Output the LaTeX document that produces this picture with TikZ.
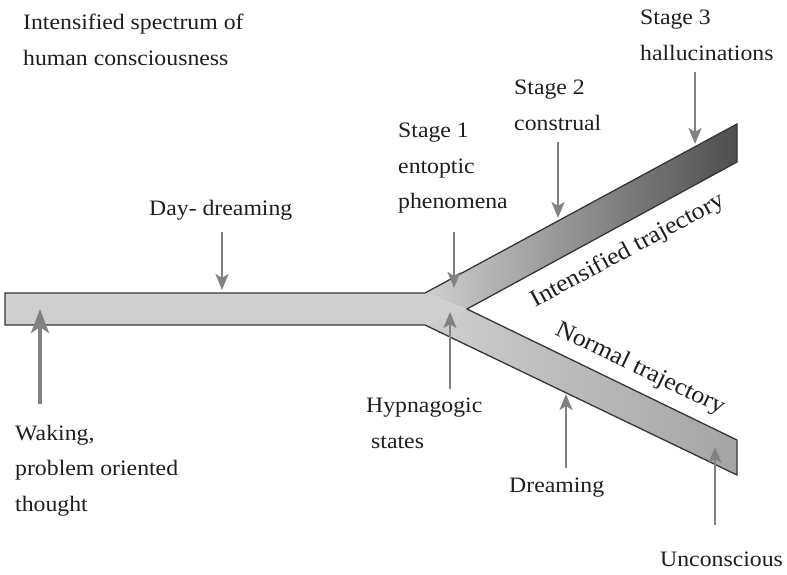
\documentclass[tikz,border=0pt]{standalone}
\usepackage{fontspec}
\setmainfont{Liberation Serif}[FakeStretch=1.08]
\usetikzlibrary{arrows.meta}
\definecolor{arrowgray}{HTML}{828282}
\definecolor{outline}{HTML}{363636}
\definecolor{barlight}{HTML}{CFCFCF}
\definecolor{bardark}{HTML}{4E4E4E}
\definecolor{lowend}{HTML}{A4A4A4}
\definecolor{ink}{HTML}{1E1E1E}
\begin{document}
\begin{tikzpicture}[x=1pt,y=-1pt,
  lbl/.style={font=\fontsize{22}{35.5}\selectfont, inner sep=0pt, text=ink},
  trajlbl/.style={font=\fontsize{24}{28}\selectfont, inner sep=0pt, text=ink},
  ptr/.style={draw=arrowgray, line width=2.6pt, -{Stealth[length=16pt,width=13pt,inset=4pt]}},
  bigptr/.style={draw=arrowgray, line width=3.6pt, -{Stealth[length=24pt,width=18pt,inset=6pt]}},
  edgeline/.style={draw=outline, line width=1.3pt, line join=miter}]
\useasboundingbox (0,0) rectangle (787,575);

% bar body
\shade[left color=barlight, right color=bardark] (425,293) -- (737,124) -- (737,162) -- (467,309) -- cycle;
\shade[left color=barlight, right color=lowend] (467,309) -- (737,440) -- (737,475) -- (425,325) -- cycle;
\fill[barlight] (5,293) -- (425,293) -- (467,309) -- (425,325) -- (5,325) -- cycle;
\draw[edgeline] (5,293) -- (425,293) -- (737,124) -- (737,162) -- (467,309) -- (737,440) -- (737,475) -- (425,325) -- (5,325) -- cycle;

% labels
\node[lbl, anchor=north west, align=left] (title) at (23,14) {Intensified spectrum of\\human consciousness};
\node[lbl, anchor=north west, align=left] (s3) at (640,10) {Stage 3\\hallucinations};
\node[lbl, anchor=north west, align=left] (s2) at (514,80) {Stage 2\\construal};
\node[lbl, anchor=north west, align=left] (s1) at (398,123) {Stage 1\\entoptic\\phenomena};
\node[lbl, anchor=base west] (day) at (149,215) {Day- dreaming};
\node[lbl, anchor=north west, align=left] (wake) at (15,425) {Waking,\\problem oriented\\thought};
\node[lbl, anchor=north west, align=left] (hyp) at (366,398) {Hypnagogic\\\hspace{5pt}states};
\node[lbl, anchor=base west] (dream) at (509,492) {Dreaming};
\node[lbl, anchor=base west] (unc) at (660,566) {Unconscious};
\node[trajlbl, rotate=28.3] (itraj) at (628,251) {Intensified trajectory};
\node[trajlbl, rotate=-25.7] (ntraj) at (640,369) {Normal trajectory};

% arrow end points
\coordinate (dayT) at (222,232);   \coordinate (dayH) at (222,290);
\coordinate (wakeT) at (40,404);   \coordinate (wakeH) at (40,309);
\coordinate (s1T) at (454,232);    \coordinate (s1H) at (454,288);
\coordinate (hypT) at (450,389);   \coordinate (hypH) at (450,312);
\coordinate (s2T) at (558,142);    \coordinate (s2H) at (558,218);
\coordinate (s3T) at (695,72);     \coordinate (s3H) at (695,144);
\coordinate (drT) at (566,468);    \coordinate (drH) at (566,394);
\coordinate (unT) at (715,525);    \coordinate (unH) at (715,447);

\draw[ptr] (dayT) -- (dayH);
\draw[bigptr] (wakeT) -- (wakeH);
\draw[ptr] (s1T) -- (s1H);
\draw[ptr] (hypT) -- (hypH);
\draw[ptr] (s2T) -- (s2H);
\draw[ptr] (s3T) -- (s3H);
\draw[ptr] (drT) -- (drH);
\draw[ptr] (unT) -- (unH);
\end{tikzpicture}
\end{document}
